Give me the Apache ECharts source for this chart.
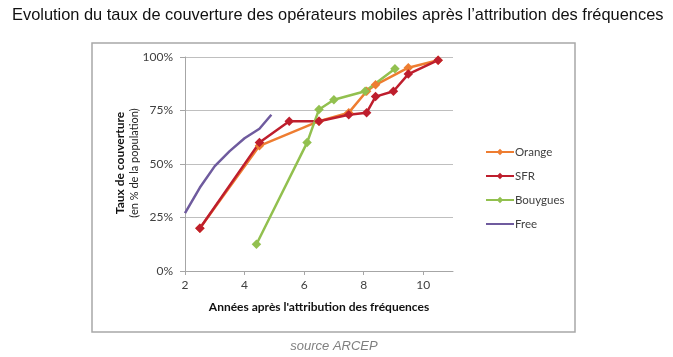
<!DOCTYPE html>
<html><head><meta charset="utf-8">
<script src="https://cdn.jsdelivr.net/npm/echarts@6/dist/echarts.min.js"></script>
<style>html,body{margin:0;padding:0;background:#fff}#c{width:673px;height:357px}</style>
</head><body><div id="c"></div>
<script>
const title = "Evolution du taux de couverture des opérateurs mobiles après l’attribution des fréquences";
const xName = "Années après l'attribution des fréquences";
const yName1 = "Taux de couverture";
const yName2 = "(en % de la population)";
const sourceText = "source ARCEP";
const seriesNames = ["Orange", "SFR", "Bouygues", "Free"];
const orangeData = [[2.5,20],[4.5,58.5],[6.5,70],[7.5,74],[8.1,84],[8.4,87],[9.5,95],[10.5,98.5]];
const sfrData = [[2.5,20],[4.5,60],[5.5,70],[6.5,70],[7.5,73],[8.1,74],[8.4,81.5],[9.0,84],[9.5,92],[10.5,98.5]];
const bouyguesData = [[4.4,12.5],[6.1,60],[6.5,75.5],[7.0,80],[8.05,84],[9.05,94.5]];
const freeData = [[2.0,27],[2.5,39],[3.0,49],[3.5,56],[4.0,62],[4.5,66.5],[4.9,73]];
const xTicks = [2,4,6,8,10];
const yTicks = [0,25,50,75,100];

const colors = ["#EE7D31", "#BE1E2D", "#92C04F", "#6F5B9E"];
const font = "Lato, 'Open Sans', sans-serif";
const chart = echarts.init(document.getElementById('c'), null, {renderer:'canvas'});
function mk(name, data, color, sym){
  return {name, type:'line', data, color, lineStyle:{width:2.5, color},
    symbol: sym ? 'diamond' : 'none', symbolSize: 9.5, showSymbol: !!sym,
    itemStyle:{color}, z: 2};
}
chart.setOption({
  animation:false,
  textStyle:{fontFamily:font},
  title:{text:title, left:7, top:2, textStyle:{fontFamily:"'Liberation Sans', Arial, sans-serif", fontSize:16.4, fontWeight:'normal', color:'#111'}},
  grid:{left:185, right:220, top:57, bottom:86},
  legend:{orient:'vertical', left:480, top:141, itemWidth:28, itemHeight:8, itemGap:12,
    textStyle:{fontFamily:font, fontSize:11.5, color:'#404040', padding:[0,0,0,-4]},
    data: [seriesNames[0], seriesNames[1], seriesNames[2], {name:seriesNames[3], itemStyle:{opacity:0}}]},
  xAxis:{type:'value', min:xTicks[0], max:11, interval:2,
    axisLine:{show:true, lineStyle:{color:'#A6A6A6'}}, axisTick:{show:true, length:4, lineStyle:{color:'#A6A6A6'}},
    splitLine:{show:false},
    axisLabel:{color:'#404040', fontSize:12, fontFamily:font, margin:8, showMaxLabel:false,
      formatter:v=> xTicks.includes(v) ? String(v) : ''},
    name:xName, nameLocation:'middle', nameGap:30,
    nameTextStyle:{fontFamily:font, fontWeight:'bold', fontSize:12, color:'#111'}},
  yAxis:{type:'value', min:yTicks[0], max:yTicks[yTicks.length-1], interval:25,
    axisLine:{show:true, lineStyle:{color:'#A6A6A6'}}, axisTick:{show:true, length:5, lineStyle:{color:'#A6A6A6'}},
    splitLine:{show:true, lineStyle:{color:'#BFBFBF', width:1}},
    axisLabel:{color:'#404040', fontSize:12, fontFamily:font, margin:12, formatter:v=>v+'%'}},
  graphic:[
    {type:'rect', shape:{x:92, y:43, width:483, height:289}, style:{fill:'none', stroke:'#A8A8A8', lineWidth:1.5}, silent:true, z:-1},
    {type:'text', x:120, y:163, rotation:Math.PI/2, style:{text:yName1, fontFamily:font, fontWeight:'bold', fontSize:12, fill:'#111', align:'center', verticalAlign:'middle'}},
    {type:'text', x:134, y:163, rotation:Math.PI/2, style:{text:yName2, fontFamily:font, fontSize:11, fill:'#222', align:'center', verticalAlign:'middle'}},
    {type:'text', x:334, y:346, style:{text:sourceText, fontFamily:"'Liberation Sans', Arial, sans-serif", fontStyle:'italic', fontSize:13, fill:'#7F7F7F', align:'center', verticalAlign:'middle'}}
  ],
  series:[
    mk(seriesNames[0], orangeData, colors[0], true),
    mk(seriesNames[1], sfrData, colors[1], true),
    mk(seriesNames[2], bouyguesData, colors[2], true),
    mk(seriesNames[3], freeData, colors[3], false)
  ]
});
</script></body></html>
